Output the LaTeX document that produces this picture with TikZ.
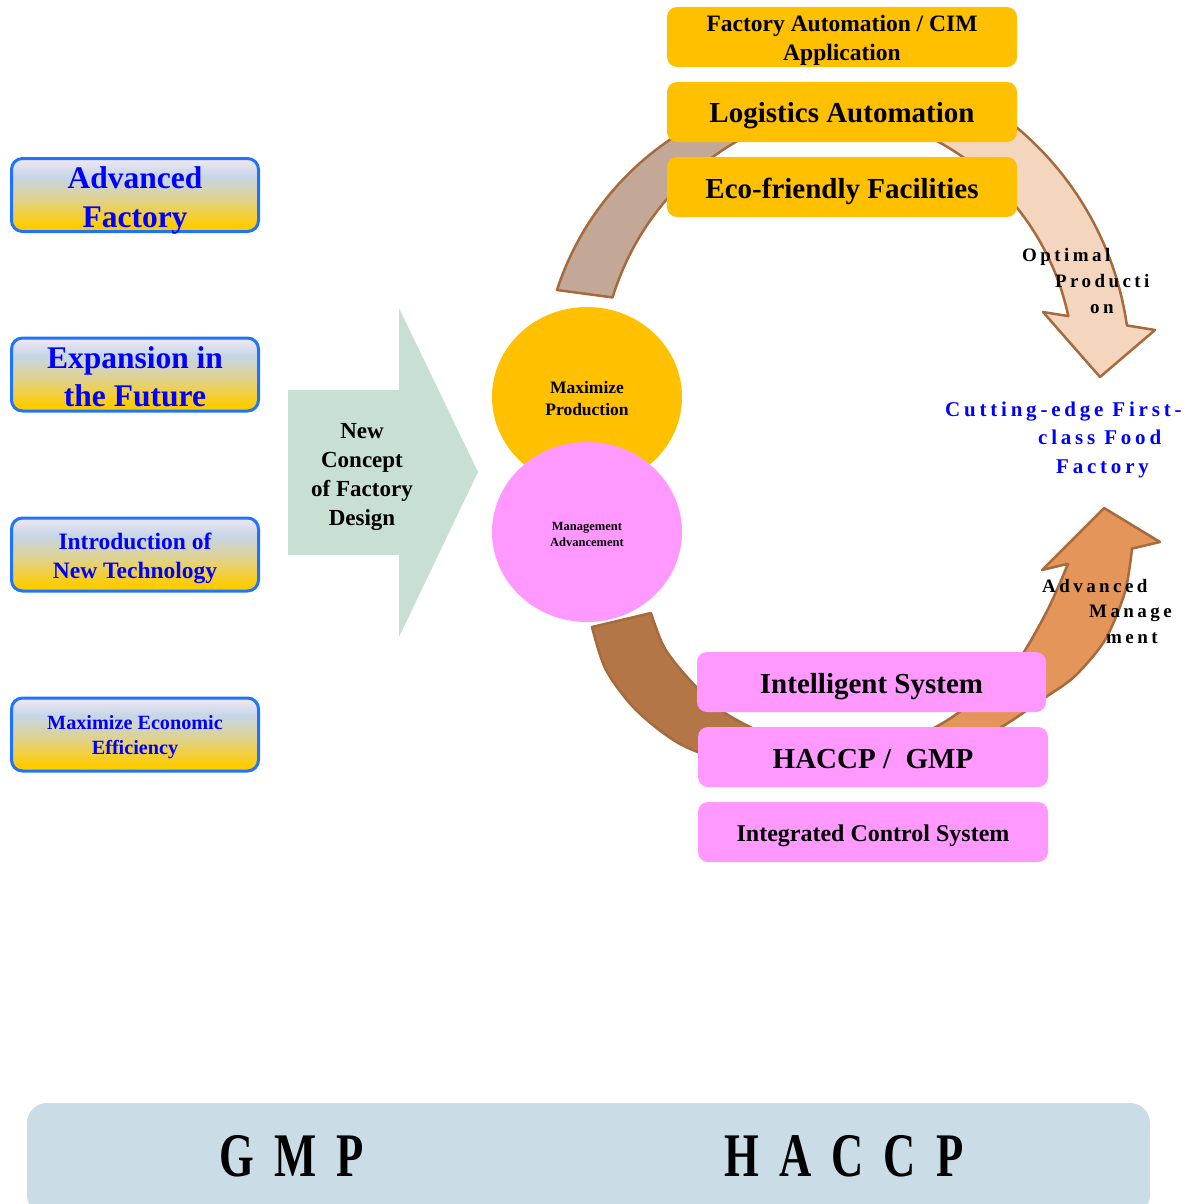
\documentclass[tikz,border=0pt]{standalone}
\usepackage{fontspec}
\usepackage{graphicx}
\setmainfont{Liberation Serif}
\newfontfamily\spacedfont[LetterSpace=18]{Liberation Serif}
\newfontfamily\widefont[LetterSpace=45]{Liberation Serif}
\usetikzlibrary{shapes.geometric}

\definecolor{boxblue}{RGB}{30,115,255}
\definecolor{textblue}{RGB}{0,0,255}
\definecolor{gold}{RGB}{255,192,0}
\definecolor{pinkfill}{RGB}{255,153,255}
\definecolor{sage}{RGB}{200,223,211}
\definecolor{barblue}{RGB}{202,220,230}
\definecolor{rim}{RGB}{166,106,60}
\definecolor{tanarc}{RGB}{196,168,151}
\definecolor{peach}{RGB}{244,213,190}
\definecolor{brownarc}{RGB}{180,118,70}
\definecolor{orangearc}{RGB}{227,149,90}
\definecolor{lavender}{RGB}{243,231,243}
\definecolor{paleblue}{RGB}{198,214,232}
\definecolor{olivegold}{RGB}{224,210,140}
\definecolor{boxgold}{RGB}{255,204,0}

\pgfdeclareverticalshading{boxshade}{100bp}{color(0bp)=(boxgold); color(29bp)=(boxgold);
  color(47bp)=(olivegold); color(63bp)=(paleblue); color(75bp)=(lavender); color(100bp)=(lavender)}

\newcommand\setsz[2]{\bfseries\fontsize{#1}{#2}\selectfont}

\begin{document}
\begin{tikzpicture}[x=1pt,y=-1pt,
  leftbox/.style={shade,shading=boxshade,draw=boxblue,line width=3,rounded corners=11,
    minimum width=247,minimum height=73,inner sep=0},
  goldbox/.style={fill=gold,rounded corners=10,minimum width=350,minimum height=60,inner sep=0,
    text height=22pt,text depth=0pt},
  pinkbox/.style={fill=pinkfill,rounded corners=10,minimum width=350,minimum height=60,inner sep=0,
    text height=22pt,text depth=0pt},
  boxtext/.style={inner sep=0,align=center},
  ring/.style={draw=rim,line width=2.5,line join=round}]
\useasboundingbox (0,0) rectangle (1203,1204);

% circular arrows
\filldraw[ring,fill=tanarc] (557,290) arc[start angle=-162,end angle=-95,radius=290]
  -- (849,106) arc[start angle=-95,end angle=-163,radius=272] -- cycle;
\filldraw[ring,fill=peach] (957.5,88.4) arc[start angle=-63,end angle=-8.1,radius=316]
  -- (1155,330) -- (1100,377) -- (1043,312)
  -- (1068.3,316.1) arc[start angle=-12,end angle=-65,radius=260] -- cycle;
\filldraw[ring,fill=orangearc] plot[smooth] coordinates {(925,770) (1000,728) (1046,697) (1075,676) (1105,640) (1125,592) (1132,548.6)}
  -- (1160,542) -- (1104,508) -- (1042,570)
  -- plot[smooth] coordinates {(1068,563.8) (1046,613) (1013,667) (962,710) (930,730) (880,752)} -- cycle;
\filldraw[ring,fill=brownarc] plot[smooth] coordinates {(592,627) (606,670) (636,710) (680,744) (740,768)}
  -- plot[smooth] coordinates {(790,745) (748,726) (718,708) (687,677) (664,647) (651,613)} -- cycle;

% boxes on the ring
\node (fa) at (842,37) [goldbox] {};
\node (fa-t) at ([yshift=-3pt]fa.center) [boxtext,font=\setsz{23.5}{29}] {Factory Automation / CIM\\Application};
\node (logi) at (842,112) [goldbox,font=\setsz{29}{34}] {Logistics Automation};
\node (eco) at (842,187) [goldbox,font=\setsz{29}{34}] {Eco-friendly Facilities};
\node (intel) at (871.5,682) [pinkbox,minimum width=349,font=\setsz{29}{34}] {Intelligent System};
\node (haccpgmp) at (873,757) [pinkbox,font=\setsz{29}{34}] {HACCP /\ \ GMP};
\node (ics) at (873,832) [pinkbox,text height=19pt,font=\setsz{24}{29}] {Integrated Control System};

% the two goals
\node (maxprod) at (587,397) [ellipse,fill=gold,minimum width=190,minimum height=180,inner sep=0] {};
\node (maxprod-t) at ([yshift=-2pt]maxprod.center) [boxtext,font=\setsz{17.5}{22}] {Maximize\\Production};
\node (mgmt) at (587,532) [ellipse,fill=pinkfill,minimum width=190,minimum height=180,inner sep=0] {};
\node (mgmt-t) at ([yshift=-2pt]mgmt.center) [boxtext,font=\setsz{12.5}{16}] {Management\\Advancement};

\node (optprod) at (1022,281) [anchor=west,inner sep=0,align=left,font={\spacedfont\setsz{19}{26}}]
  {Optimal\\\hspace*{33pt}Producti\\\hspace*{68pt}on};
\node (advmgmt) at (1042,611) [anchor=west,inner sep=0,align=left,font={\spacedfont\setsz{19}{25.5}}]
  {Advanced\\\hspace*{47pt}Manage\\\hspace*{64pt}ment};
\node (goal) at (945,439.5) [anchor=west,inner sep=0,align=left,text=textblue,font={\spacedfont\setsz{21}{28.5}}]
  {Cutting-edge First-\\\hspace*{93pt}class Food\\\hspace*{111pt}Factory};

% big arrow
\fill[sage] (288,390) -- (399,390) -- (399,308) -- (478,472) -- (399,637) -- (399,555) -- (288,555) -- cycle;
\node (concept) at (362,477) [boxtext,font=\setsz{23}{29}] {New\\Concept\\of Factory\\Design};

% left column
\node (advfac) at (135,195) [leftbox] {};
\node (advfac-t) at ([yshift=-5pt]advfac.center) [boxtext,text=textblue,font=\setsz{31.5}{39}] {Advanced\\Factory};
\node (expand) at (135,374.5) [leftbox] {};
\node (expand-t) at ([yshift=-2pt]expand.center) [boxtext,text=textblue,font=\setsz{31.5}{38}] {Expansion in\\the Future};
\node (newtech) at (135,554.5) [leftbox] {};
\node (newtech-t) at ([yshift=-4pt]newtech.center) [boxtext,text=textblue,font=\setsz{23.5}{29}] {Introduction of\\New Technology};
\node (econ) at (135,734.5) [leftbox] {};
\node (econ-t) at ([yshift=-3pt]econ.center) [boxtext,text=textblue,font=\setsz{20.2}{25}] {Maximize Economic\\Efficiency};

% base
\fill[barblue,rounded corners=20] (27,1103) rectangle (1150,1215);
\node (gmp) at (292,1156) [inner sep=0,font={\widefont\setsz{62}{62}}] {\scalebox{0.72}[1]{GMP}};
\node (haccp) at (844,1156) [inner sep=0,font={\widefont\setsz{62}{62}}] {\scalebox{0.72}[1]{HACCP}};
\end{tikzpicture}
\end{document}
